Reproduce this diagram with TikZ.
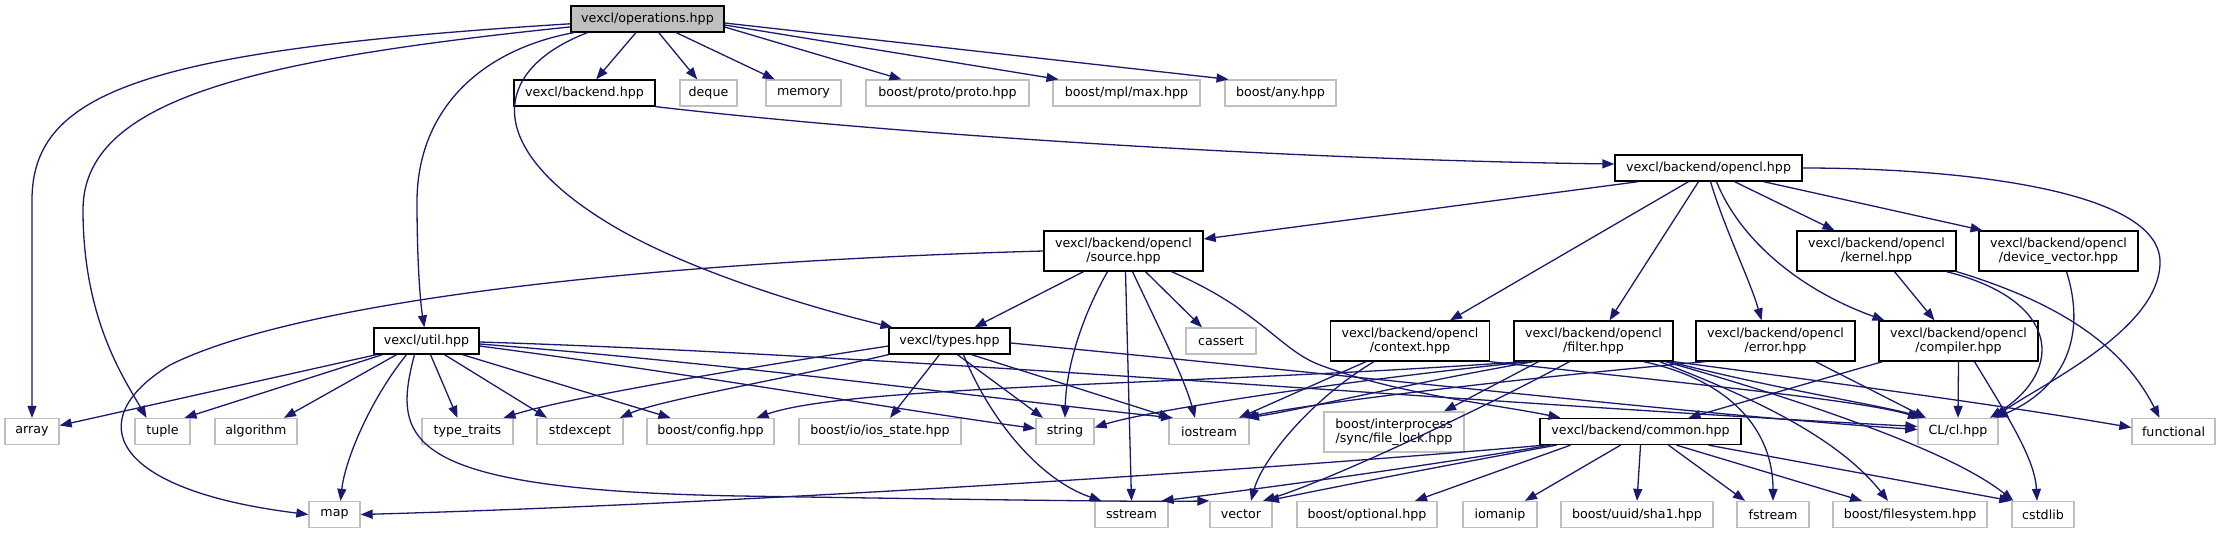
\documentclass[tikz,border=0pt]{standalone}
\usepackage{fontspec}
\setmainfont{DejaVu Sans}
\usetikzlibrary{arrows.meta}
\definecolor{edgeblue}{HTML}{191970}
\definecolor{extgray}{HTML}{BFBFBF}
\definecolor{opsfill}{HTML}{BFBFBF}
\begin{document}
\begin{tikzpicture}[x=1pt,y=-1pt,
  every node/.style={font=\fontsize{12.66}{14}\selectfont, inner sep=0pt, align=center},
  doc/.style={draw=black, line width=1.3pt, fill=white, minimum height=26pt},
  doctwo/.style={doc, minimum height=40pt},
  ext/.style={draw=extgray, line width=1.3pt, fill=white, minimum height=26pt},
  exttwo/.style={ext, minimum height=40pt},
  inc/.style={draw=edgeblue, line width=1.3pt, -{Triangle[length=12pt,width=9pt]}}
]
\useasboundingbox (0,0) rectangle (2221,533);
% row 0
\node[doc, fill=opsfill, minimum width=153pt] (ops) at (647.5,19) {vexcl/operations.hpp};
% row 1
\node[doc, minimum width=141pt] (backend) at (584.5,93) {vexcl/backend.hpp};
\node[ext, minimum width=57pt] (deque) at (708.5,93) {deque};
\node[ext, minimum width=75pt] (memory) at (803.5,93) {memory};
\node[ext, minimum width=163pt] (proto) at (947.5,93) {boost/proto/proto.hpp};
\node[ext, minimum width=147pt] (mpl) at (1126.5,93) {boost/mpl/max.hpp};
\node[ext, minimum width=111pt] (any) at (1280.5,93) {boost/any.hpp};
% row 2
\node[doc, minimum width=187pt] (opencl) at (1708.5,168) {vexcl/backend/opencl.hpp};
% row 3
\node[doctwo, minimum width=159pt] (source) at (1123.5,251) {vexcl/backend/opencl\\/source.hpp};
\node[doctwo, minimum width=159pt] (kernel) at (1876.5,251) {vexcl/backend/opencl\\/kernel.hpp};
\node[doctwo, minimum width=159pt] (devvec) at (2058.5,251) {vexcl/backend/opencl\\/device\_vector.hpp};
% row 4
\node[doc, minimum width=105pt] (util) at (426.5,341) {vexcl/util.hpp};
\node[doc, minimum width=121pt] (types) at (949.5,341) {vexcl/types.hpp};
\node[ext, minimum width=70pt] (cassert) at (1221,341) {cassert};
\node[doctwo, minimum width=159pt] (context) at (1410,341) {vexcl/backend/opencl\\/context.hpp};
\node[doctwo, minimum width=159pt] (filter) at (1593.5,341) {vexcl/backend/opencl\\/filter.hpp};
\node[doctwo, minimum width=159pt] (error) at (1775.5,341) {vexcl/backend/opencl\\/error.hpp};
\node[doctwo, minimum width=159pt] (compiler) at (1958.5,341) {vexcl/backend/opencl\\/compiler.hpp};
% row 5
\node[ext, minimum width=54pt] (array) at (32,431.5) {array};
\node[ext, minimum width=55pt] (tuple) at (162.5,431.5) {tuple};
\node[ext, minimum width=82pt] (algorithm) at (256,431.5) {algorithm};
\node[ext, minimum width=91pt] (typetraits) at (467.5,431.5) {type\_traits};
\node[ext, minimum width=86pt] (stdexcept) at (580,431.5) {stdexcept};
\node[ext, minimum width=127pt] (config) at (710.5,431.5) {boost/config.hpp};
\node[ext, minimum width=162pt] (iosstate) at (880,431.5) {boost/io/ios\_state.hpp};
\node[ext, minimum width=58pt] (string) at (1065,431.5) {string};
\node[ext, minimum width=80pt] (iostream) at (1209,431.5) {iostream};
\node[exttwo, minimum width=140pt] (filelock) at (1394,432) {boost/interprocess\\/sync/file\_lock.hpp};
\node[doc, minimum width=201pt] (common) at (1640.5,431.5) {vexcl/backend/common.hpp};
\node[ext, minimum width=80pt] (cl) at (1958,431.5) {CL/cl.hpp};
\node[ext, minimum width=83pt] (functional) at (2173.5,431.5) {functional};
% row 6
\node[ext, minimum width=51pt] (map) at (334.5,514.5) {map};
\node[ext, minimum width=73pt] (sstream) at (1131.5,514.5) {sstream};
\node[ext, minimum width=62pt] (vector) at (1241,514.5) {vector};
\node[ext, minimum width=140pt] (optional) at (1367,514.5) {boost/optional.hpp};
\node[ext, minimum width=74pt] (iomanip) at (1500,514.5) {iomanip};
\node[ext, minimum width=152pt] (sha1) at (1637,514.5) {boost/uuid/sha1.hpp};
\node[ext, minimum width=72pt] (fstream) at (1773,514.5) {fstream};
\node[ext, minimum width=154pt] (filesystem) at (1910,514.5) {boost/filesystem.hpp};
\node[ext, minimum width=62pt] (cstdlib) at (2043,514.5) {cstdlib};

% operations.hpp
\draw[inc] (ops) .. controls (150,50) and (32,90) .. (32,200) -- (array);
\draw[inc] (ops) .. controls (250,60) and (83,100) .. (83,210) .. controls (83,320) and (125,380) .. ([xshift=-16pt]tuple.north);
\draw[inc] (ops) .. controls (480,50) and (418,110) .. (417,200) .. controls (417,260) and (420,300) .. (util);
\draw[inc] ([xshift=-60pt]ops.south) .. controls (490,70) and (480,150) .. (620,230) .. controls (700,275) and (820,310) .. (types);
\draw[inc] (ops) -- (backend);
\draw[inc] (ops) -- (deque);
\draw[inc] (ops) -- (memory);
\draw[inc] ([yshift=-8pt]ops.east) -- (proto);
\draw[inc] ([yshift=-6pt]ops.east) -- ([xshift=-68pt]mpl.north);
\draw[inc] ([yshift=-4pt]ops.east) -- ([xshift=-52pt]any.north);
% backend.hpp
\draw[inc] (backend.south east) .. controls (900,135) and (1300,160) .. ([yshift=4pt]opencl.west);
% opencl.hpp
\draw[inc] ([xshift=-70pt]opencl.south) -- ([yshift=12pt]source.east);
\draw[inc] ([xshift=-20pt]opencl.south) -- ([xshift=40pt]context.north);
\draw[inc] ([xshift=-10pt]opencl.south) -- ([xshift=16pt]filter.north);
\draw[inc] ([xshift=2pt]opencl.south) .. controls (1725,230) and (1750,280) .. ([xshift=-14pt]error.north);
\draw[inc] ([xshift=8pt]opencl.south) .. controls (1740,240) and (1800,290) .. ([xshift=-74pt]compiler.north);
\draw[inc] ([xshift=26pt]opencl.south) -- ([xshift=-42pt]kernel.north);
\draw[inc] ([xshift=55pt]opencl.south) -- ([xshift=-76pt]devvec.north);
\draw[inc] (opencl.east) .. controls (1960,168) and (2160,190) .. (2160,262) .. controls (2160,330) and (2040,385) .. ([xshift=36pt]cl.north);
% source.hpp
\draw[inc] (source.west) .. controls (650,262) and (300,300) .. (170,365) .. controls (80,420) and (110,490) .. (map.west);
\draw[inc] ([xshift=-40pt]source.south) -- ([xshift=25pt]types.north);
\draw[inc] ([xshift=-16pt]source.south) .. controls (1080,320) and (1066,370) .. (string.north);
\draw[inc] ([xshift=2pt]source.south) -- (sstream.north);
\draw[inc] ([xshift=9pt]source.south) .. controls (1160,330) and (1185,380) .. ([xshift=-14pt]iostream.north);
\draw[inc] ([xshift=22pt]source.south) -- ([xshift=-19pt]cassert.north);
\draw[inc] ([xshift=48pt]source.south) .. controls (1260,310) and (1280,350) .. (1320,365) .. controls (1400,395) and (1500,405) .. ([xshift=-80pt]common.north);
% kernel.hpp
\draw[inc] ([xshift=18pt]kernel.south) -- ([xshift=-24pt]compiler.north);
\draw[inc] ([xshift=70pt]kernel.south) .. controls (2060,300) and (2065,370) .. ([xshift=32pt]cl.north);
\draw[inc] (kernel.south east) .. controls (2050,300) and (2120,340) .. ([xshift=-14pt]functional.north);
% device_vector.hpp
\draw[inc] ([xshift=8pt]devvec.south) .. controls (2085,330) and (2070,385) .. ([xshift=38pt]cl.north);
% compiler.hpp
\draw[inc] ([xshift=-76pt]compiler.south) -- ([xshift=48pt]common.north);
\draw[inc] (compiler.south) -- (cl.north);
\draw[inc] ([xshift=16pt]compiler.south) .. controls (2010,420) and (2035,460) .. ([xshift=-6pt]cstdlib.north);
% error.hpp
\draw[inc] ([xshift=-70pt]error.south) .. controls (1500,380) and (1300,405) .. ([xshift=36pt]iostream.north);
\draw[inc] ([xshift=40pt]error.south) -- ([xshift=-32pt]cl.north);
% context.hpp
\draw[inc] ([xshift=-44pt]context.south) -- ([xshift=30pt]iostream.north);
\draw[inc] ([xshift=-36pt]context.south) .. controls (1310,400) and (1262,460) .. ([xshift=10pt]vector.north);
\draw[inc] (context.south east) .. controls (1700,385) and (1860,400) .. ([xshift=-38pt]cl.north);
% filter.hpp
\draw[inc] ([xshift=-64pt]filter.south) .. controls (1350,380) and (1150,410) .. ([yshift=4pt]string.east);
\draw[inc] ([xshift=-60pt]filter.south) .. controls (1400,385) and (1300,410) .. ([xshift=38pt]iostream.north);
\draw[inc] ([xshift=-70pt]filter.south) .. controls (1200,385) and (850,385) .. ([xshift=46pt]config.north);
\draw[inc] ([xshift=-55pt]filter.south) -- ([xshift=50pt]filelock.north);
\draw[inc] ([xshift=-24pt]filter.south) .. controls (1480,410) and (1330,480) .. ([xshift=22pt]vector.north);
\draw[inc] ([xshift=76pt]filter.south) .. controls (1780,390) and (1880,405) .. ([xshift=-34pt]cl.north);
\draw[inc] (filter.south east) .. controls (1850,385) and (2000,405) .. ([yshift=4pt]functional.west);
\draw[inc] ([xshift=72pt]filter.south) .. controls (1800,400) and (1950,450) .. ([xshift=2pt]cstdlib.north west);
\draw[inc] ([xshift=50pt]filter.south) .. controls (1730,380) and (1773,430) .. (fstream.north);
\draw[inc] ([xshift=66pt]filter.south) .. controls (1760,400) and (1840,440) .. ([xshift=-22pt]filesystem.north);
% types.hpp
\draw[inc] ([yshift=-5pt]types.west) .. controls (700,375) and (560,400) .. ([xshift=36pt]typetraits.north);
\draw[inc] (types.south west) .. controls (780,380) and (660,400) .. ([xshift=40pt]stdexcept.north);
\draw[inc] ([xshift=-10pt]types.south) -- ([xshift=10pt]iosstate.north);
\draw[inc] ([xshift=8pt]types.south) -- ([xshift=-22pt]string.north);
\draw[inc] ([xshift=22pt]types.south) -- ([xshift=-38pt]iostream.north);
\draw[inc] ([xshift=14pt]types.south) .. controls (990,420) and (1040,480) .. ([xshift=-30pt]sstream.north);
\draw[inc] ([yshift=-2pt]types.east) .. controls (1400,380) and (1700,415) .. ([yshift=2pt]cl.west);
% util.hpp
\draw[inc] ([xshift=-50pt]util.south) -- ([yshift=6pt]array.east);
\draw[inc] ([xshift=-44pt]util.south) -- ([xshift=22pt]tuple.north);
\draw[inc] ([xshift=-30pt]util.south) -- ([xshift=28pt]algorithm.north);
\draw[inc] ([xshift=-20pt]util.south) .. controls (370,400) and (345,460) .. ([xshift=6pt]map.north);
\draw[inc] ([xshift=4pt]util.south) -- ([xshift=-10pt]typetraits.north);
\draw[inc] ([xshift=18pt]util.south) -- ([xshift=-33pt]stdexcept.north);
\draw[inc] ([xshift=36pt]util.south) -- ([xshift=-40pt]config.north);
\draw[inc] ([xshift=-12pt]util.south) .. controls (392,440) and (400,490) .. (740,496) .. controls (1000,500) and (1150,502) .. (vector.north west);
\draw[inc] ([yshift=-5pt]util.east) .. controls (700,375) and (900,410) .. ([yshift=3pt]string.west);
\draw[inc] ([yshift=-3pt]util.east) .. controls (750,365) and (1000,400) .. ([xshift=-36pt]iostream.north);
\draw[inc] ([yshift=-1pt]util.east) .. controls (900,355) and (1500,405) .. ([yshift=5pt]cl.west);
% common.hpp
\draw[inc] ([xshift=-96pt]common.south) .. controls (1200,475) and (700,505) .. (map.east);
\draw[inc] ([xshift=-90pt]common.south) .. controls (1400,470) and (1250,490) .. ([xshift=30pt]sstream.north);
\draw[inc] ([xshift=-84pt]common.south) .. controls (1420,470) and (1320,490) .. ([xshift=26pt]vector.north);
\draw[inc] ([xshift=-70pt]common.south) -- ([xshift=48pt]optional.north);
\draw[inc] ([xshift=-20pt]common.south) -- ([xshift=25pt]iomanip.north);
\draw[inc] (common.south) -- (sha1.north);
\draw[inc] ([xshift=28pt]common.south) -- ([xshift=-28pt]fstream.north);
\draw[inc] ([xshift=36pt]common.south) -- ([xshift=-48pt]filesystem.north);
\draw[inc] ([xshift=68pt]common.south) -- (cstdlib.north west);
\end{tikzpicture}
\end{document}
